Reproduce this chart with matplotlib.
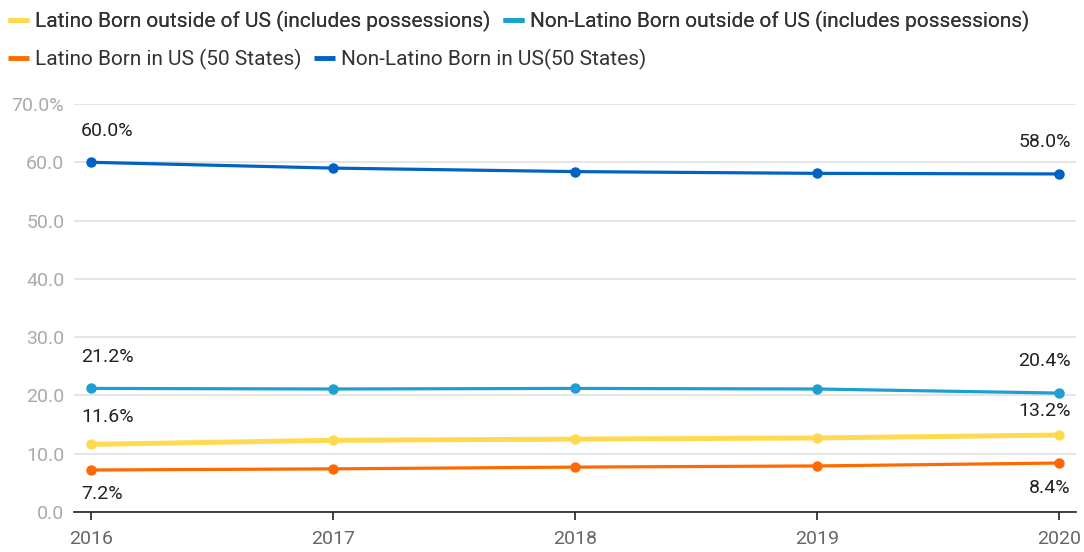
import matplotlib.pyplot as plt
from matplotlib.lines import Line2D

plt.rcParams['font.family'] = ['Roboto', 'DejaVu Sans']

years = [2016, 2017, 2018, 2019, 2020]
latino_outside = [11.6, 12.3, 12.5, 12.7, 13.2]
nonlatino_outside = [21.2, 21.1, 21.2, 21.1, 20.4]
latino_us = [7.2, 7.4, 7.7, 7.9, 8.4]
nonlatino_us = [60.0, 59.0, 58.4, 58.1, 58.0]

names = [
    'Latino Born outside of US (includes possessions)',
    'Non-Latino Born outside of US (includes possessions)',
    'Latino Born in US (50 States)',
    'Non-Latino Born in US(50 States)',
]
series = [latino_outside, nonlatino_outside, latino_us, nonlatino_us]
colors = ['#FFDA50', '#1E9FD2', '#FF6A00', '#0062C2']
widths = [3.6, 2.3, 2.3, 2.3]
# label offsets (pixels) for first / last point: positive = above
label_offsets = [(27, 24), (31, 32), (-24, -25), (31, 32)]

yticks = [0, 10, 20, 30, 40, 50, 60, 70]
ytick_labels = ['0.0', '10.0', '20.0', '30.0', '40.0', '50.0', '60.0', '70.0%']

fig = plt.figure(figsize=(10.84, 5.52), dpi=100)
ax = fig.add_axes([0.0683, 0.0725, 0.9243, 0.7391])

draw_order = [3, 1, 0, 2]
for i in draw_order:
    ax.plot(years, series[i], color=colors[i], lw=widths[i], marker='o',
            markersize=6.5, solid_capstyle='round', zorder=3)

for i in range(4):
    vals = series[i]
    off_first, off_last = label_offsets[i]
    ax.annotate(f'{vals[0]:.1f}%', (years[0], vals[0]), xytext=(-10, off_first),
                textcoords='offset pixels', ha='left', va='center',
                fontsize=14, color='#222222')
    ax.annotate(f'{vals[-1]:.1f}%', (years[-1], vals[-1]), xytext=(12, off_last),
                textcoords='offset pixels', ha='right', va='center',
                fontsize=14, color='#222222')

ax.set_xlim(2016 - 17 / 242, 2020 + 17 / 242)
ax.set_ylim(0, 70)
ax.set_xticks(years)
ax.set_xticklabels([str(y) for y in years])
ax.set_yticks(yticks)
ax.set_yticklabels(ytick_labels)

ax.grid(axis='y', color='#e3e3e3', lw=1.3)
ax.set_axisbelow(True)
for s in ['top', 'right', 'left']:
    ax.spines[s].set_visible(False)
ax.spines['bottom'].set_color('#222222')
ax.spines['bottom'].set_linewidth(1.2)
ax.spines['bottom'].set_zorder(4)
ax.tick_params(axis='y', length=0, pad=7, labelsize=14, labelcolor='#aaaaaa')
ax.tick_params(axis='x', length=6, width=1.2, color='#222222', pad=7,
               labelsize=14, labelcolor='#666666')

handles = [Line2D([], [], color=c, lw=3.5, solid_capstyle='butt') for c in colors]
legend_kw = dict(loc='upper left', ncol=2, frameon=False, fontsize=15,
                 handlelength=1.0, handletextpad=0.3, columnspacing=0.6,
                 borderaxespad=0)
leg1 = fig.legend(handles[:2], names[:2], bbox_to_anchor=(0.0, 0.995), **legend_kw)
leg2 = fig.legend(handles[2:], names[2:], bbox_to_anchor=(0.0, 0.926), **legend_kw)
for leg in (leg1, leg2):
    for t in leg.get_texts():
        t.set_color('#333333')
fig.add_artist(leg1)

fig.savefig('out.png', dpi=100)
